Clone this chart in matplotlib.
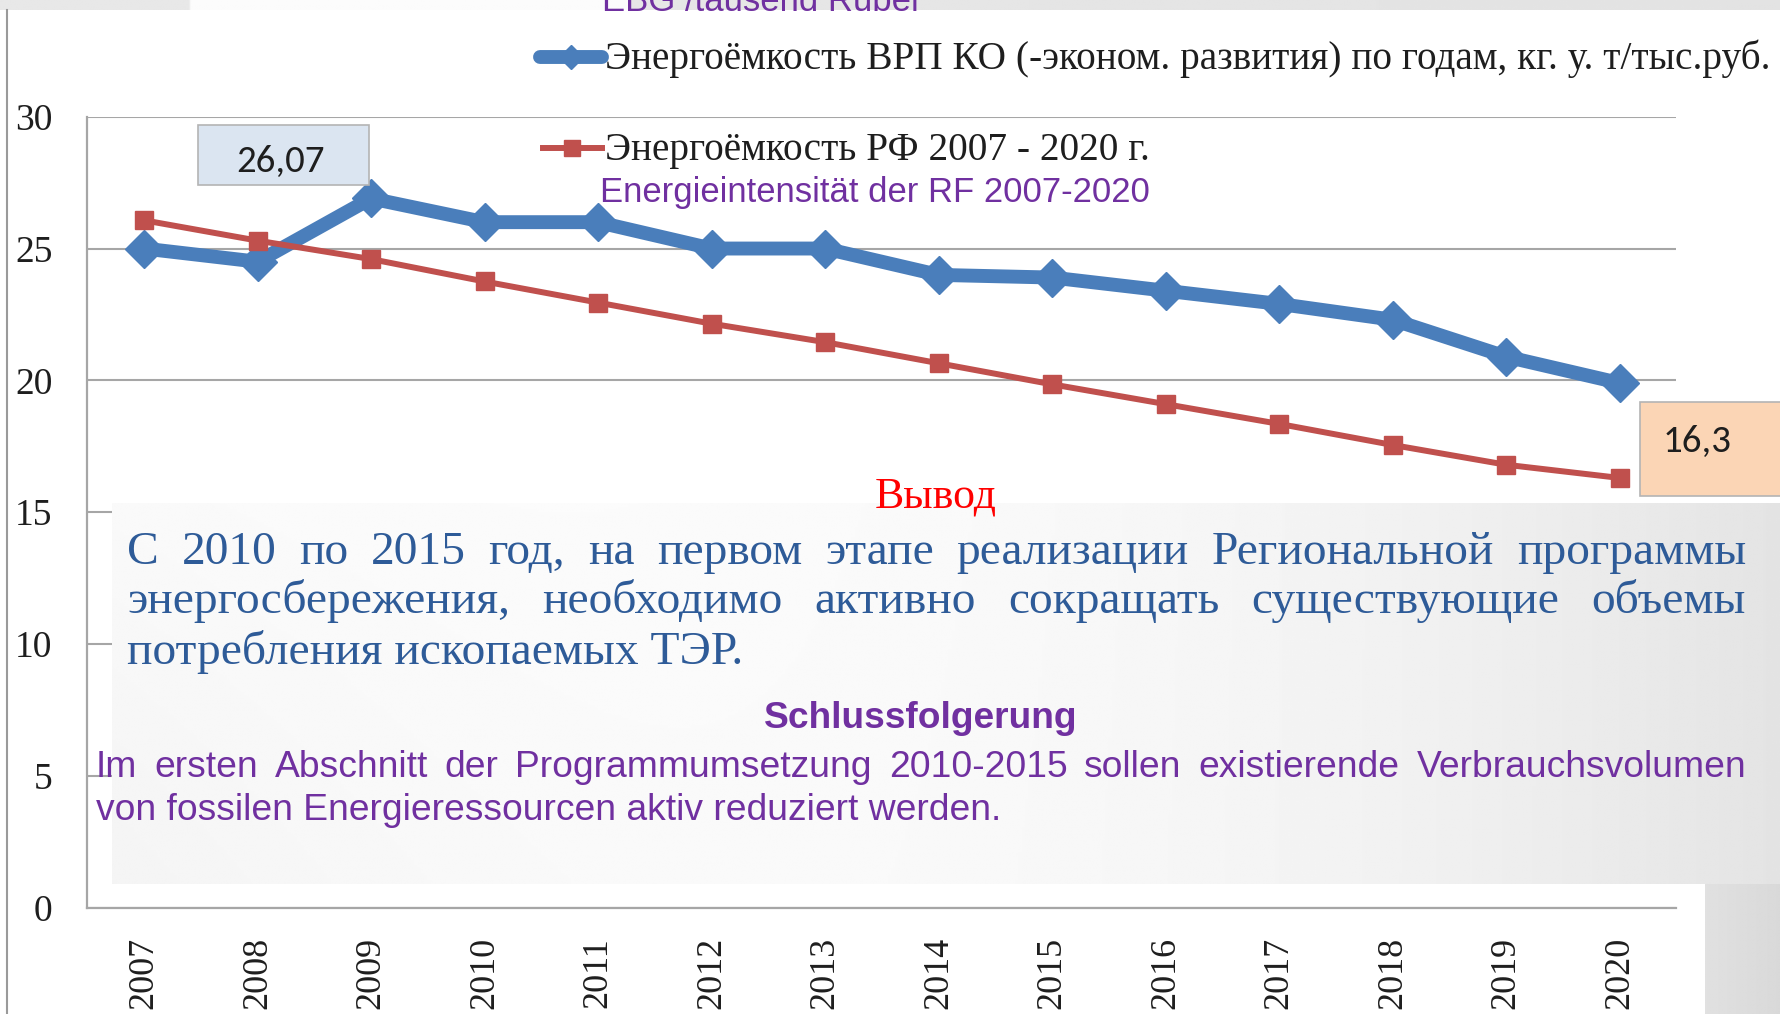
import matplotlib
matplotlib.use('Agg')
import matplotlib.pyplot as plt
import numpy as np
from matplotlib import font_manager
from matplotlib.patches import Rectangle
from matplotlib.lines import Line2D

# ---------------- data ----------------
years = [str(y) for y in range(2007, 2021)]
ko_intensity = [25.0, 24.5, 26.9, 26.0, 26.0, 25.0, 25.0, 24.0, 23.9, 23.4, 22.9, 22.3, 20.9, 19.9]
rf_intensity = [26.07, 25.3, 24.6, 23.75, 22.95, 22.15, 21.45, 20.65, 19.85, 19.1, 18.35, 17.55, 16.8, 16.3]
yticks = [0, 5, 10, 15, 20, 25, 30]

legend_ko = "Энергоёмкость ВРП КО (-эконом. развития) по годам, кг. у. т/тыс.руб."
legend_rf = "Энергоёмкость РФ 2007 - 2020 г."
legend_rf_de = "Energieintensität der RF 2007-2020"
top_de = "EBG /tausend Rubel"
label_first = "26,07"
label_last = "16,3"
title_ru = "Вывод"
text_ru = ["С 2010 по 2015 год, на первом этапе реализации Региональной программы",
           "энергосбережения, необходимо активно сокращать существующие объемы",
           "потребления ископаемых ТЭР."]
title_de = "Schlussfolgerung"
text_de = ["Im ersten Abschnitt der Programmumsetzung 2010-2015 sollen existierende Verbrauchsvolumen",
           "von fossilen Energieressourcen aktiv reduziert werden."]

# ---------------- fonts / colours ----------------
names = {f.name for f in font_manager.fontManager.ttflist}
SERIF = 'Liberation Serif'
SANS = 'Liberation Sans'
NARROW = 'Liberation Sans Narrow' if 'Liberation Sans Narrow' in names else SANS
CAL = 'Carlito' if 'Carlito' in names else SANS
BLUE = '#4A7EBB'
RED = '#C0504D'
PURPLE = '#7030A0'
RUBLUE = '#2E5B98'
GRID = '#A6A6A6'

W, H = 1781, 1014
fig = plt.figure(figsize=(W / 100, H / 100), dpi=100)
fig.patch.set_facecolor('white')
r = fig.canvas.get_renderer()


def pix_axes(z):
    a = fig.add_axes([0, 0, 1, 1], zorder=z)
    a.set_xlim(0, W)
    a.set_ylim(H, 0)
    a.axis('off')
    a.patch.set_alpha(0)
    return a


# ---------------- background (slide) ----------------
bg = pix_axes(0)
xx = np.linspace(0, 1, 400)[None, :]
yy = np.linspace(0, 1, 200)[:, None]
slide = 0.90 - 0.06 * xx + 0.0 * yy
bg.imshow(slide, extent=[0, W, H, 0], cmap='gray', vmin=0, vmax=1, aspect='auto', zorder=0)
# top strip with lighter middle
tx = np.linspace(0, W, 600)
top = np.where((tx > 190) & (tx < 630), 0.985, 0.91 - 0.02 * tx / W)[None, :]
bg.imshow(top, extent=[0, W, 10, 0], cmap='gray', vmin=0, vmax=1, aspect='auto', zorder=1)
# white chart picture
bg.add_patch(Rectangle((0, 10), W, 493, facecolor='white', edgecolor='none', zorder=2))
bg.add_patch(Rectangle((0, 10), 1705, H - 10, facecolor='white', edgecolor='none', zorder=2))
bg.add_line(Line2D([6.7, 6.7], [10, H], color='#9A9A9A', lw=1.5, zorder=3))

# ---------------- chart ----------------
L, R, T, B = 87.3, 1676.3, 116.7, 907.7
ax = fig.add_axes([L / W, 1 - B / H, (R - L) / W, (B - T) / H], zorder=1)
ax.patch.set_alpha(0)
x = np.arange(len(years))
ax.set_xlim(-0.5, len(years) - 0.5)
ax.set_ylim(0, 30)
ax.set_yticks(yticks)
ax.set_yticklabels([str(v) for v in yticks], fontsize=27, family=SERIF, color='#1E1E1E')
ax.set_xticks(x)
ax.set_xticklabels(years, rotation=90, fontsize=26, family=SERIF, color='#1E1E1E')
ax.tick_params(axis='y', length=0, pad=25)
ax.tick_params(axis='x', length=0, pad=21)
ax.yaxis.grid(True, color=GRID, lw=1.5)
ax.set_axisbelow(True)
for s in ['top', 'right']:
    ax.spines[s].set_visible(False)
for s in ['left', 'bottom']:
    ax.spines[s].set_color(GRID)
    ax.spines[s].set_linewidth(1.6)

ax.plot(x, ko_intensity, color=BLUE, lw=10, marker='D', ms=19, solid_joinstyle='round',
        solid_capstyle='round', zorder=3)
ax.plot(x, rf_intensity, color=RED, lw=4.3, marker='s', ms=13, zorder=4)

# ---------------- foreground overlay ----------------
fg = pix_axes(3)

# gradient panel behind the conclusion text
px0, px1, py0, py1 = 112, W, 503, 884
u = np.linspace(0, 1, 500)[None, :]
v = np.linspace(0, 1, 150)[:, None]
panel = 0.992 - 0.10 * u ** 3 - 0.035 * (1 - u) ** 3 * (0.4 + 0.6 * v)
fg.imshow(panel, extent=[px0, px1, py1, py0], cmap='gray', vmin=0, vmax=1, aspect='auto', zorder=1)
# slide background visible bottom right
br = 0.88 - 0.03 * np.linspace(0, 1, 50)[None, :] + 0.0 * np.linspace(0, 1, 50)[:, None]
fg.imshow(br, extent=[1705, W, H, 884], cmap='gray', vmin=0, vmax=1, aspect='auto', zorder=1)


def fit_text(a, x0, x1, y, s, **kw):
    t = a.text(x0, y, s, fontsize=20, ha='left', **kw)
    w = t.get_window_extent(renderer=r).width
    t.set_fontsize(20 * (x1 - x0) / w)
    return t


def justify(a, x0, x1, y, line, fs, **kw):
    words = line.split(' ')
    ts = [a.text(0, y, w, fontsize=fs, ha='left', **kw) for w in words]
    widths = [t.get_window_extent(renderer=r).width for t in ts]
    gap = (x1 - x0 - sum(widths)) / (len(words) - 1)
    pos = x0
    for t, w in zip(ts, widths):
        t.set_x(pos)
        pos += w + gap


# legend entries
fg.add_line(Line2D([540, 602], [57, 57], color=BLUE, lw=10, solid_capstyle='round', zorder=5))
fg.add_line(Line2D([571], [57], color=BLUE, marker='D', ms=12, lw=0, zorder=5))
fg.add_line(Line2D([543, 602], [148, 148], color=RED, lw=4.3, zorder=5))
fg.add_line(Line2D([572], [148], color=RED, marker='s', ms=11, lw=0, zorder=5))
fit_text(fg, 605, 1772, 69, legend_ko, family=SERIF, color='#1E1E1E', va='baseline', zorder=5)
fit_text(fg, 605, 1149, 160, legend_rf, family=SERIF, color='#1E1E1E', va='baseline', zorder=5)
fit_text(fg, 600, 1147, 202, legend_rf_de, family=NARROW, color=PURPLE, va='baseline', zorder=5)
fit_text(fg, 602, 918, 11, top_de, family=NARROW, color=PURPLE, va='baseline', zorder=5)

# value boxes
fg.add_patch(Rectangle((198, 125), 171, 60, facecolor='#DBE5F1', edgecolor='#B4B4B4', lw=1.2, zorder=5))
fit_text(fg, 236, 325, 172, label_first, family=CAL, color='#1E1E1E', va='baseline', zorder=6)
fg.add_patch(Rectangle((1640, 402), 160, 94, facecolor='#FBD5B5', edgecolor='#B4B4B4', lw=1.2, zorder=5))
fit_text(fg, 1663, 1732, 452, label_last, family=CAL, color='#1E1E1E', va='baseline', zorder=6)

# conclusion (Russian)
fit_text(fg, 875, 997, 508, title_ru, family=SERIF, color='#FF0000', va='baseline', zorder=6)
t3 = fit_text(fg, 127, 744, 664, text_ru[2], family=SERIF, color=RUBLUE, va='baseline', zorder=6)
fs_ru = t3.get_fontsize()
justify(fg, 127, 1746, 564, text_ru[0], fs_ru, family=SERIF, color=RUBLUE, va='baseline', zorder=6)
justify(fg, 127, 1746, 613, text_ru[1], fs_ru, family=SERIF, color=RUBLUE, va='baseline', zorder=6)

# conclusion (German)
fit_text(fg, 764, 1077, 728, title_de, family=NARROW, weight='bold', color=PURPLE, va='baseline', zorder=6)
t2 = fit_text(fg, 96, 998, 820, text_de[1], family=NARROW, color=PURPLE, va='baseline', zorder=6)
justify(fg, 96, 1746, 777, text_de[0], t2.get_fontsize(), family=NARROW, color=PURPLE,
        va='baseline', zorder=6)

fig.savefig('out.png', dpi=100)
